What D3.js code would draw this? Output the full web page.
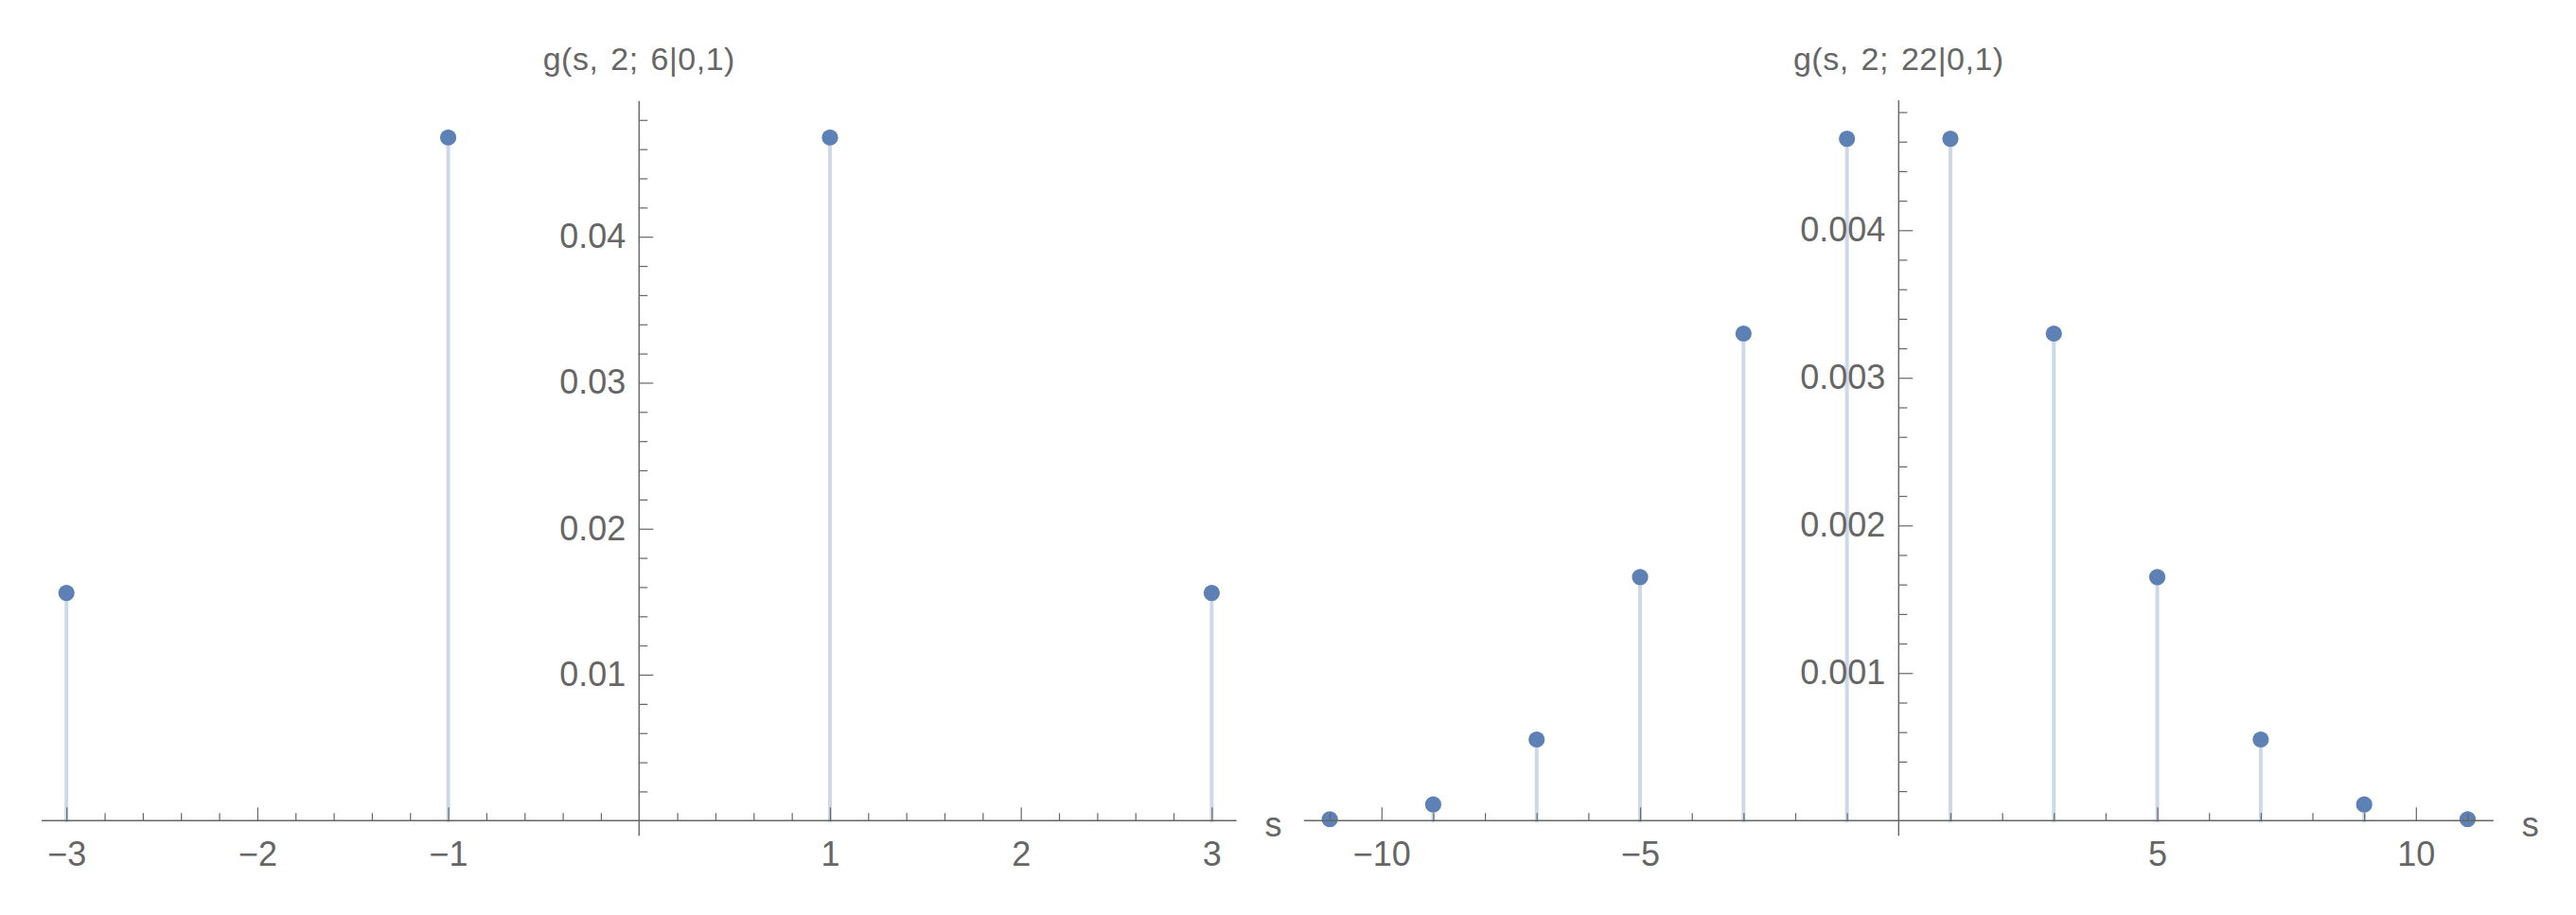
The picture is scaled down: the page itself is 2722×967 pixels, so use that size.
<!DOCTYPE html>
<html>
<head>
<meta charset="utf-8">
<script src="https://cdn.jsdelivr.net/npm/d3@7"></script>
<style>
  body { margin: 0; background: #fff; }
  svg text { font-family: "Liberation Sans", Arial, sans-serif; fill: #666; }
</style>
</head>
<body>
<div id="chart"></div>
<script>
// Data
var leftTitle = "g(s, 2; 6|0,1)";
var leftS = [-3, -1, 1, 3];
var leftG = [0.0156, 0.0468, 0.0468, 0.0156];
var leftMajorX = [-3, -2, -1, 1, 2, 3];
var leftMajorY = [0.01, 0.02, 0.03, 0.04];

var rightTitle = "g(s, 2; 22|0,1)";
var rightS = [-11, -9, -7, -5, -3, -1, 1, 3, 5, 7, 9, 11];
var rightG = [0.00001, 0.00011, 0.00055, 0.00165, 0.0033, 0.00462,
              0.00462, 0.0033, 0.00165, 0.00055, 0.00011, 0.00001];
var rightMajorX = [-10, -5, 5, 10];
var rightMajorY = [0.001, 0.002, 0.003, 0.004];

var W = 2722, H = 967;
var dotColor = "#5e81b5";
var stemColor = "#cdd8e9";
var axisColor = "#666";

var svg = d3.select("#chart")
    .append("svg")
    .attr("width", W)
    .attr("height", H);

function drawPanel(cfg) {
    var x = d3.scaleLinear().domain(cfg.xDomain).range(cfg.xRange);
    var y = d3.scaleLinear().domain(cfg.yDomain).range([867.3, cfg.yTop]);
    var g = svg.append("g");
    var fmt = function (d) { return d3.format(cfg.yFmt)(d); };
    var xfmt = d3.format("d");

    // stems
    g.selectAll("line.stem")
        .data(cfg.s)
        .enter()
        .append("line")
        .attr("class", "stem")
        .attr("x1", d => x(d))
        .attr("x2", d => x(d))
        .attr("y1", (d, i) => y(cfg.v[i]))
        .attr("y2", y(0) + 2)
        .attr("stroke", stemColor)
        .attr("stroke-width", 4);

    // points
    g.selectAll("circle")
        .data(cfg.s)
        .enter()
        .append("circle")
        .attr("cx", d => x(d))
        .attr("cy", (d, i) => y(cfg.v[i]))
        .attr("r", 8.6)
        .attr("fill", dotColor);

    // x axis: minor ticks
    var minorX = g.append("g")
        .attr("transform", "translate(0," + y(0) + ")")
        .call(d3.axisBottom(x).tickValues(cfg.minorX).tickSize(-8).tickFormat(""));
    minorX.select(".domain").remove();

    // x axis: major ticks and labels
    var majorX = g.append("g")
        .attr("transform", "translate(0," + y(0) + ")")
        .call(d3.axisBottom(x).tickValues(cfg.majorX).tickSize(-14).tickPadding(22).tickFormat(xfmt));
    majorX.select(".domain").remove();

    // y axis: minor ticks
    var minorY = g.append("g")
        .attr("transform", "translate(" + x(0) + ",0)")
        .call(d3.axisLeft(y).tickValues(cfg.minorY).tickSize(-9).tickFormat(""));
    minorY.select(".domain").remove();

    // y axis: major ticks and labels
    var majorY = g.append("g")
        .attr("transform", "translate(" + x(0) + ",0)")
        .call(d3.axisLeft(y).tickValues(cfg.majorY).tickSize(-15).tickPadding(14).tickFormat(fmt));
    majorY.select(".domain").remove();

    g.selectAll(".tick line").attr("stroke", axisColor).attr("stroke-width", 1.2);
    g.selectAll(".tick text")
        .style("font-family", "'Liberation Sans', Arial, sans-serif")
        .style("font-size", "36px")
        .attr("fill", axisColor);

    // axis lines
    g.append("line")
        .attr("x1", x.range()[0]).attr("x2", x.range()[1])
        .attr("y1", y(0)).attr("y2", y(0))
        .attr("stroke", axisColor).attr("stroke-width", 1.4);
    g.append("line")
        .attr("x1", x(0)).attr("x2", x(0))
        .attr("y1", y.range()[1]).attr("y2", y(0) + 16)
        .attr("stroke", axisColor).attr("stroke-width", 1.4);

    // axis label s
    g.append("text")
        .attr("x", x.range()[1] + 30)
        .attr("y", y(0) + 4)
        .attr("dy", "0.35em")
        .style("font-size", "36px")
        .text("s");

    // title
    g.append("text")
        .attr("x", x(0))
        .attr("y", 74)
        .attr("text-anchor", "middle")
        .style("font-size", "34px")
        .style("word-spacing", "3px")
        .style("letter-spacing", "0.5px")
        .text(cfg.title);
}

// minor tick positions
var leftMinorX = d3.range(-15, 16).map(d => d / 5).filter(d => Math.abs(d - Math.round(d)) > 1e-9);
var leftMinorY = d3.range(1, 25).map(d => d * 0.002).filter((d, i) => (i + 1) % 5 !== 0);
var rightMinorX = d3.range(-11, 12).filter(d => d !== 0 && d % 5 !== 0);
var rightMinorY = d3.range(1, 25).map(d => d * 0.0002).filter((d, i) => (i + 1) % 5 !== 0);

drawPanel({
    title: leftTitle, s: leftS, v: leftG,
    xDomain: [-3.13, 3.13], xRange: [44, 1306.6],
    yDomain: [0, 0.0493], yTop: 106.7,
    majorX: leftMajorX, minorX: leftMinorX,
    majorY: leftMajorY, minorY: leftMinorY, yFmt: ".2f"
});

drawPanel({
    title: rightTitle, s: rightS, v: rightG,
    xDomain: [-11.5, 11.5], xRange: [1377.8, 2634.8],
    yDomain: [0, 0.00488], yTop: 106,
    majorX: rightMajorX, minorX: rightMinorX,
    majorY: rightMajorY, minorY: rightMinorY, yFmt: ".3f"
});
</script>
</body>
</html>
